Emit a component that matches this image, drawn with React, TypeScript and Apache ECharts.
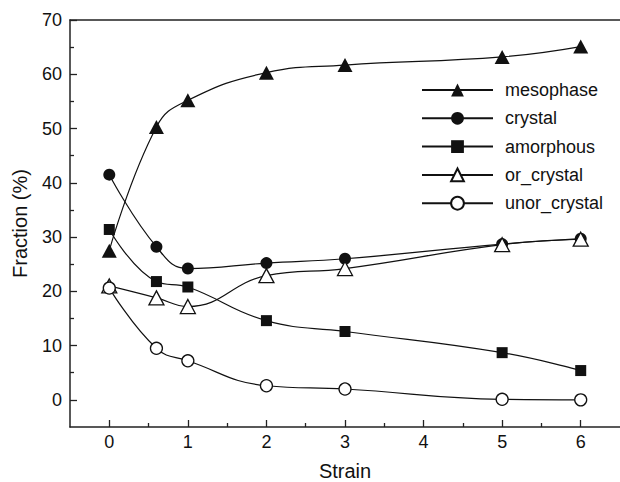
import React, { useEffect, useRef } from "react";
import * as echarts from "echarts";

const strain = [0, 0.6, 1, 2, 3, 5, 6];
const mesophase = [27.5, 50.3, 55.2, 60.3, 61.7, 63.2, 65.1];
const crystal = [41.5, 28.2, 24.2, 25.2, 26.0, 28.7, 29.7];
const amorphous = [31.4, 21.8, 20.8, 14.6, 12.6, 8.7, 5.4];
const orCrystal = [21.0, 18.8, 17.2, 22.9, 24.2, 28.6, 29.6];
const unorCrystal = [20.6, 9.5, 7.2, 2.6, 2.0, 0.1, 0.0];

const xMajorTicks = [0, 1, 2, 3, 4, 5, 6];
const xMinorTicks = [0.5, 1.5, 2.5, 3.5, 4.5, 5.5];
const yMajorTicks = [0, 10, 20, 30, 40, 50, 60, 70];
const yMinorTicks = [5, 15, 25, 35, 45, 55, 65];

const FONT = "'Liberation Sans', Arial, Helvetica, sans-serif";
const AXIS_COLOR = "#222";
const INK = "#111";

function pairs(ys: number[]) {
  return strain.map((x, i) => [x, ys[i]]);
}

export default function App() {
  const ref = useRef<HTMLDivElement>(null);
  useEffect(() => {
    if (!ref.current) return;
    const chart = echarts.init(ref.current, null, { renderer: "svg" });
    const baseX = {
      type: "value" as const,
      min: -0.5,
      max: 6.5,
      interval: 0.5,
      splitLine: { show: false },
    };
    const baseY = {
      type: "value" as const,
      min: -5,
      max: 70,
      interval: 5,
      splitLine: { show: false },
    };
    const mk = (
      name: string,
      data: number[],
      symbol: string,
      size: number | number[],
      open: boolean
    ) => ({
      name,
      type: "line",
      data: pairs(data),
      smooth: 0.45,
      symbol,
      symbolSize: size,
      showAllSymbol: true,
      lineStyle: { color: INK, width: 1.2 },
      itemStyle: open
        ? { color: "#fff", borderColor: INK, borderWidth: 1.3 }
        : { color: INK, borderColor: INK, borderWidth: 0 },
      emphasis: { disabled: true },
      z: open ? 3 : 2,
    });
    chart.setOption({
      animation: false,
      backgroundColor: "#fff",
      textStyle: { fontFamily: FONT },
      grid: {
        left: 70,
        right: 0,
        top: 20,
        bottom: 55,
        containLabel: false,
        outerBoundsMode: "none",
      },
      legend: {
        orient: "vertical",
        left: 421,
        top: 81,
        padding: 0,
        itemWidth: 71,
        itemHeight: 16,
        itemGap: 10.3,
        textStyle: {
          fontFamily: FONT,
          fontSize: 18,
          color: INK,
          padding: [0, 0, 0, 7],
        },
        data: ["mesophase", "crystal", "amorphous", "or_crystal", "unor_crystal"],
        selectedMode: false,
      },
      xAxis: [
        {
          ...baseX,
          position: "bottom",
          name: "Strain",
          nameLocation: "middle",
          nameGap: 34,
          nameTextStyle: { fontFamily: FONT, fontSize: 20, color: INK },
          axisLine: { onZero: false, lineStyle: { color: AXIS_COLOR, width: 1.5 } },
          axisTick: {
            inside: true,
            length: 7,
            customValues: xMajorTicks,
            lineStyle: { color: AXIS_COLOR, width: 1.3 },
          },
          axisLabel: {
            customValues: xMajorTicks,
            margin: 6,
            fontFamily: FONT,
            fontSize: 18,
            color: INK,
          },
        },
        {
          ...baseX,
          position: "bottom",
          axisLine: { show: false, onZero: false },
          axisTick: {
            inside: true,
            length: 4,
            customValues: xMinorTicks,
            lineStyle: { color: AXIS_COLOR, width: 1.3 },
          },
          axisLabel: { show: false },
        },
        {
          ...baseX,
          position: "top",
          axisLine: { onZero: false, lineStyle: { color: AXIS_COLOR, width: 1.5 } },
          axisTick: { show: false },
          axisLabel: { show: false },
        },
      ],
      yAxis: [
        {
          ...baseY,
          position: "left",
          name: "Fraction (%)",
          nameLocation: "middle",
          nameGap: 40,
          nameTextStyle: { fontFamily: FONT, fontSize: 20, color: INK },
          axisLine: { onZero: false, lineStyle: { color: AXIS_COLOR, width: 1.5 } },
          axisTick: {
            inside: true,
            length: 7,
            customValues: yMajorTicks,
            lineStyle: { color: AXIS_COLOR, width: 1.3 },
          },
          axisLabel: {
            customValues: yMajorTicks,
            margin: 8,
            fontFamily: FONT,
            fontSize: 18,
            color: INK,
          },
        },
        {
          ...baseY,
          position: "left",
          axisLine: { show: false, onZero: false },
          axisTick: {
            inside: true,
            length: 4,
            customValues: yMinorTicks,
            lineStyle: { color: AXIS_COLOR, width: 1.3 },
          },
          axisLabel: { show: false },
        },
      ],
      series: [
        mk("mesophase", mesophase, "triangle", [15, 14], false),
        mk("crystal", crystal, "circle", 12, false),
        mk("amorphous", amorphous, "rect", 11, false),
        mk("or_crystal", orCrystal, "triangle", [15, 14], true),
        mk("unor_crystal", unorCrystal, "circle", 12, true),
      ],
    });
    return () => chart.dispose();
  }, []);
  return (
    <div
      ref={ref}
      style={{ position: "absolute", left: 0, top: 0, width: 620, height: 482 }}
    />
  );
}
